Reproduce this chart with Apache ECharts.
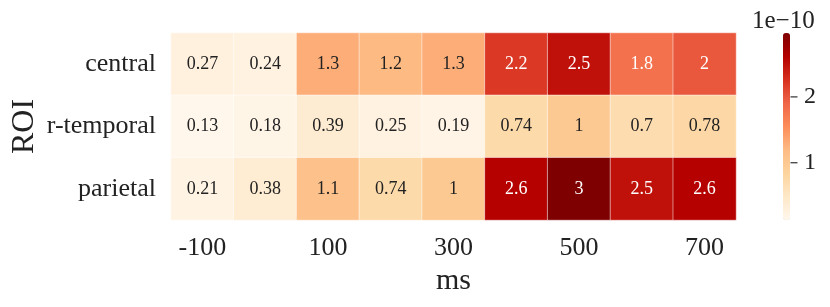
<!DOCTYPE html>
<html><head><meta charset="utf-8">
<script src="https://cdn.jsdelivr.net/npm/echarts@6/dist/echarts.min.js"></script>
<style>html,body{margin:0;padding:0;background:#fff}#c{width:830px;height:307px}</style>
</head><body><div id="c"></div>
<script>
const xCats = ['-100','0','100','200','300','400','500','600','700'];
const yCats = ['central','r-temporal','parietal'];
const central   = [0.27,0.24,1.3,1.2,1.3,2.2,2.5,1.8,2];
const rtemporal = [0.13,0.18,0.39,0.25,0.19,0.74,1,0.7,0.78];
const parietal  = [0.21,0.38,1.1,0.74,1,2.6,3,2.5,2.6];
const cbarTicks = [1,2];
const vmin = 0.13, vmax = 2.97;
const cmap = ['#fff7ec','#fee8c8','#fdd49e','#fdbb84','#fc8d59','#ef6548','#d7301f','#b30000','#7f0000'];

const rows = [central, rtemporal, parietal];
const data = [];
rows.forEach((r, yi) => r.forEach((v, xi) => data.push({value: [xi, yi, v],
  label: {color: v > 1.6 ? '#fff' : '#222'}})));

const FONT = 'Liberation Serif';
const chart = echarts.init(document.getElementById('c'));
chart.setOption({
  animation: false,
  textStyle: {fontFamily: FONT},
  grid: [
    {left: 171, right: 94, top: 33, bottom: 87, outerBoundsMode: 'none', containLabel: false},
    {left: 783, width: 7, top: 33, height: 187, outerBoundsMode: 'none', containLabel: false}
  ],
  xAxis: [
    {type: 'category', data: xCats, gridIndex: 0,
     axisLine: {show: false}, axisTick: {show: false}, splitLine: {show: false},
     axisLabel: {interval: 1, fontSize: 26, color: '#222', fontFamily: FONT, margin: 15},
     name: 'ms', nameLocation: 'middle', nameGap: 42,
     nameTextStyle: {fontSize: 30, color: '#222', fontFamily: FONT}},
    {type: 'value', gridIndex: 1, show: false, min: 0, max: 1}
  ],
  yAxis: [
    {type: 'category', data: yCats, inverse: true, gridIndex: 0,
     axisLine: {show: false}, axisTick: {show: false}, splitLine: {show: false},
     axisLabel: {fontSize: 26, color: '#222', fontFamily: FONT, margin: 15},
     name: 'ROI', nameLocation: 'middle', nameGap: 130, nameMoveOverlap: false,
     nameTextStyle: {fontSize: 32, color: '#222', fontFamily: FONT}},
    {type: 'value', gridIndex: 1, position: 'right', min: vmin, max: vmax,
     axisLine: {show: false}, splitLine: {show: false},
     axisTick: {show: false},
     axisLabel: {fontSize: 24, color: '#222', fontFamily: FONT, margin: 14,
       customValues: cbarTicks, formatter: v => String(v)}}
  ],
  visualMap: {
    type: 'continuous', min: vmin, max: vmax, seriesIndex: 0,
    calculable: false, orient: 'vertical', left: 783, top: 33,
    itemWidth: 7, itemHeight: 187, padding: 0, text: null,
    hoverLink: false,
    inRange: {color: cmap}
  },
  graphic: [{type: 'text', left: 752, top: 9,
    style: {text: '1e\u221210', fontSize: 25, fontFamily: FONT, fill: '#222'}}],
  series: [{
    type: 'heatmap', xAxisIndex: 0, yAxisIndex: 0, data: data,
    itemStyle: {borderColor: 'rgba(255,255,255,0.5)', borderWidth: 1},
    label: {show: true, fontSize: 18, fontFamily: FONT,
      formatter: p => String(p.value[2])},
    emphasis: {disabled: true}
  }, {
    type: 'scatter', xAxisIndex: 1, yAxisIndex: 1,
    data: cbarTicks.map(t => [1, t]),
    symbol: 'rect', symbolSize: [7, 1.4], symbolOffset: [4, 0],
    itemStyle: {color: '#222'}, silent: true, z: 5
  }]
});
</script></body></html>
